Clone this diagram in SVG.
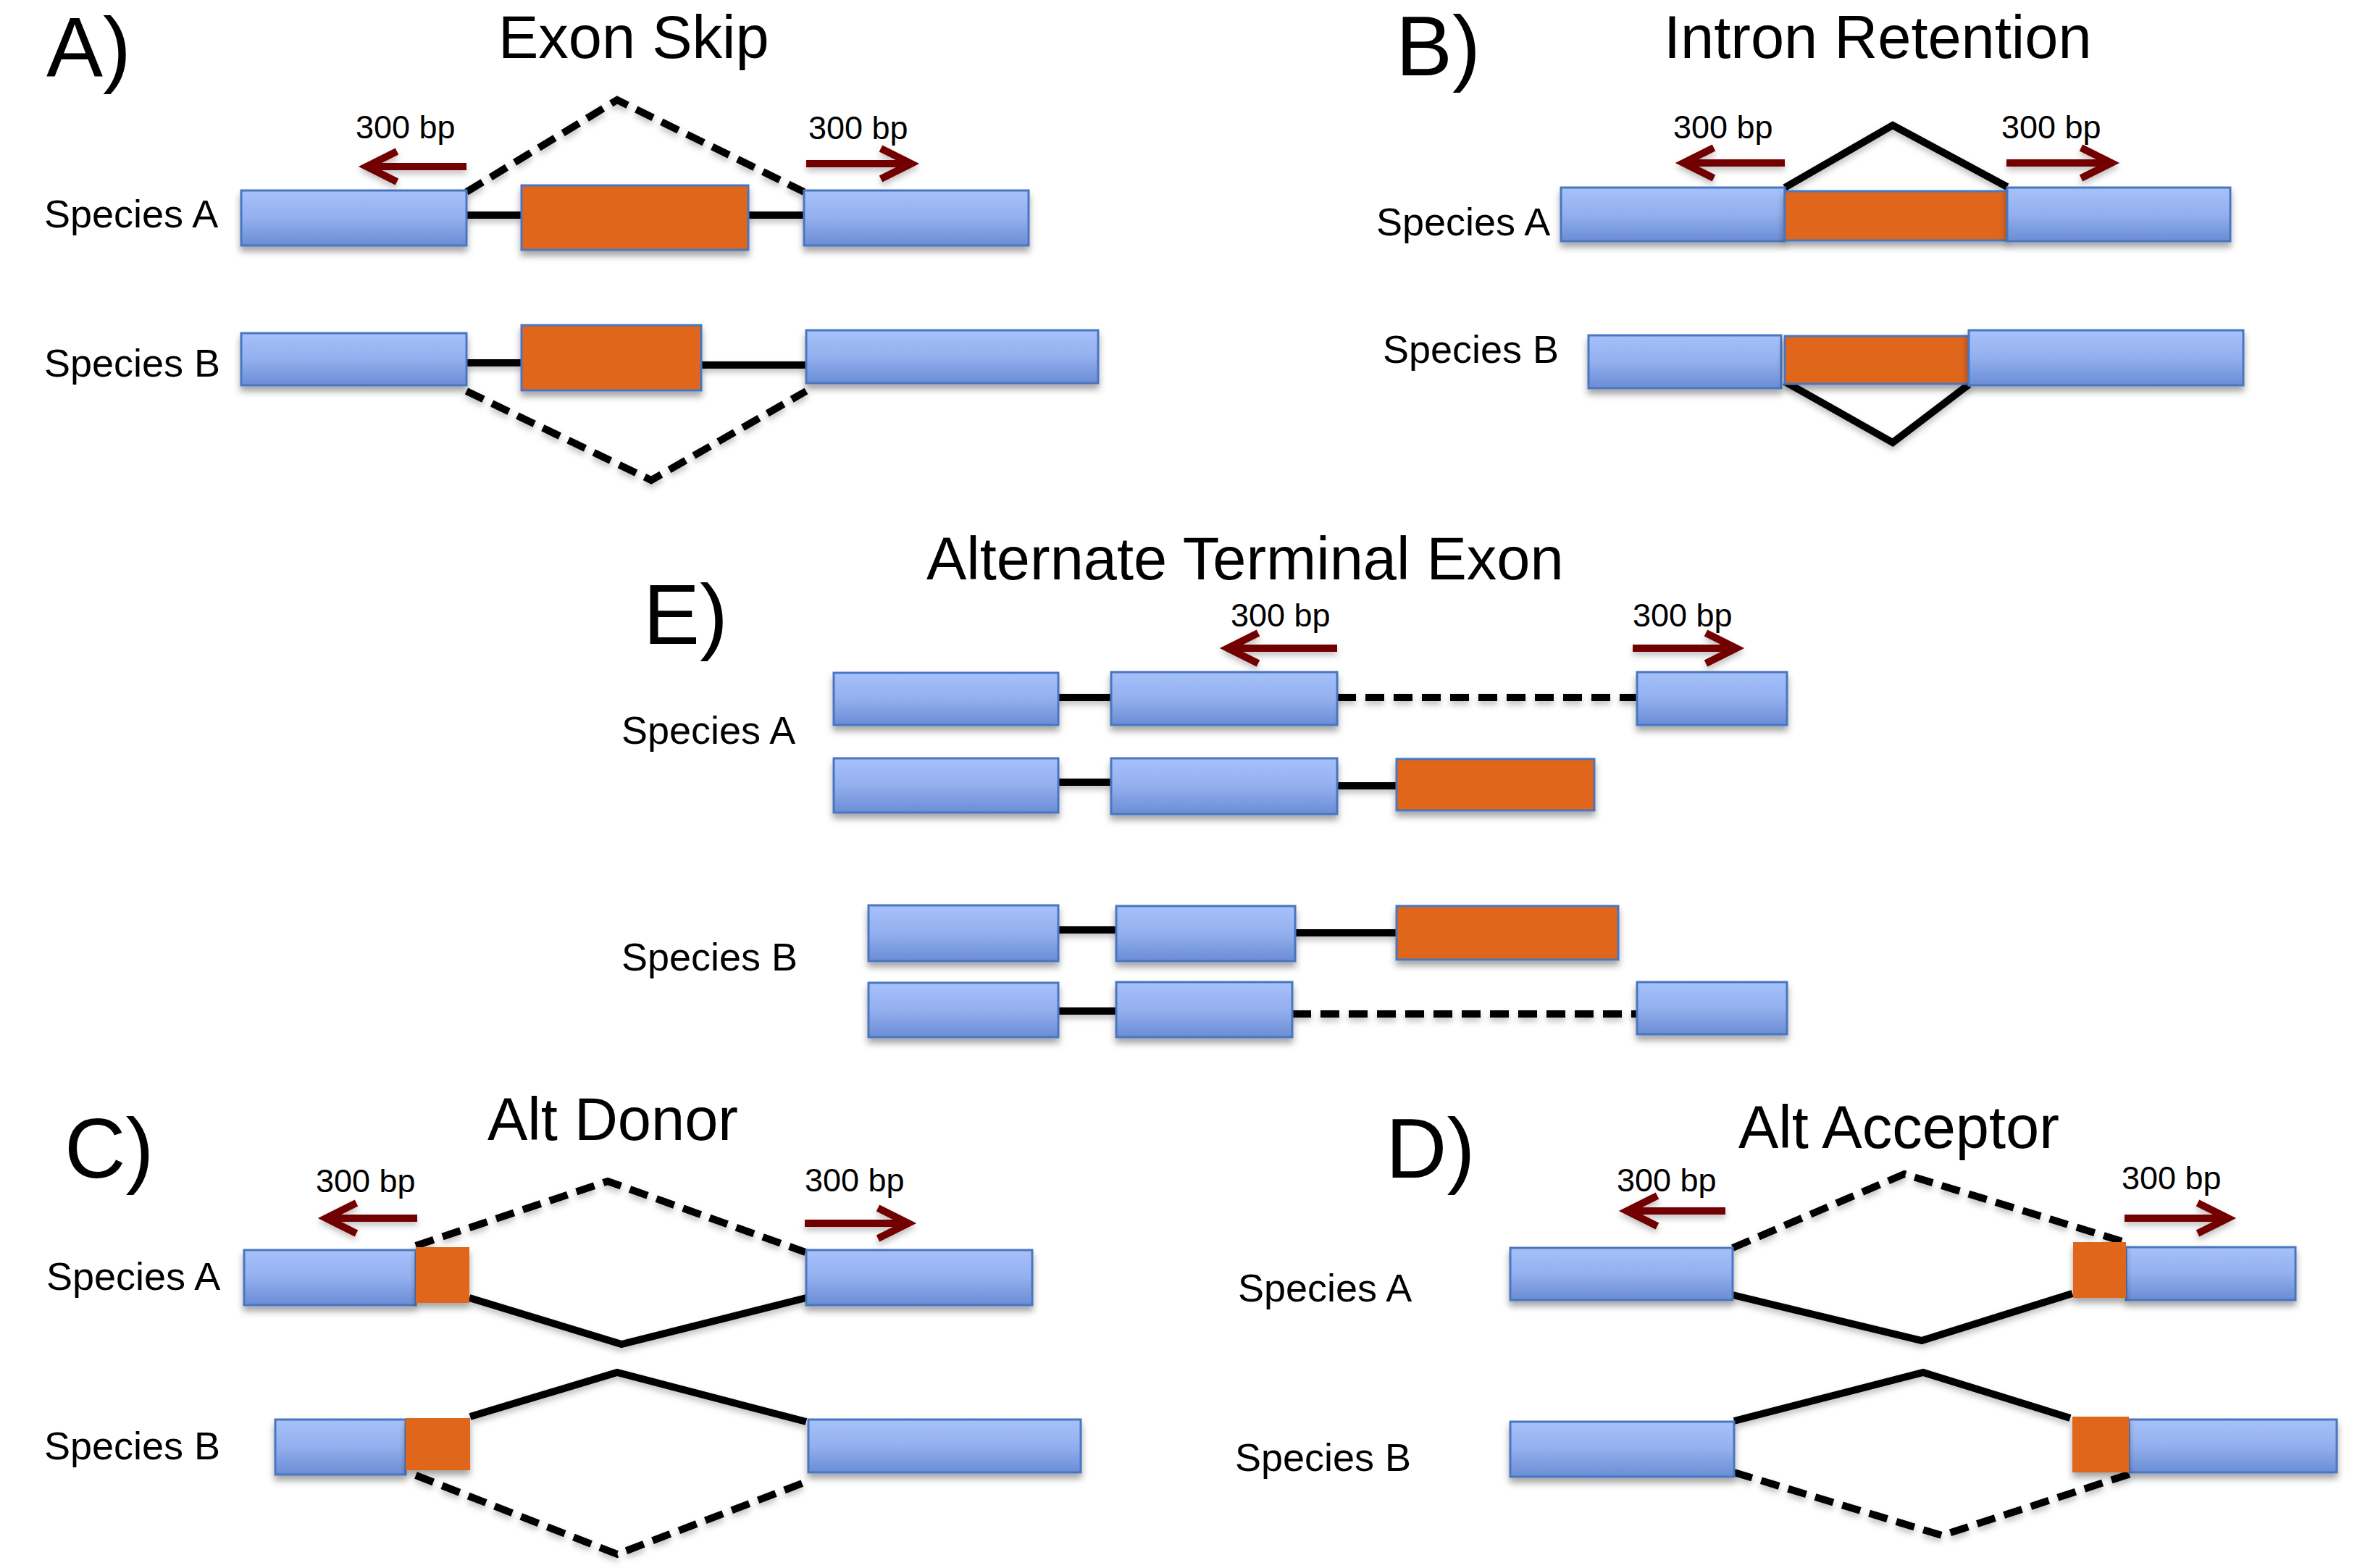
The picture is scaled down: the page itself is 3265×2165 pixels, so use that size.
<svg xmlns="http://www.w3.org/2000/svg" width="3265" height="2165" viewBox="0 0 3265 2165">
<defs>
<linearGradient id="blueGrad" x1="0" y1="0" x2="0" y2="1">
<stop offset="0" stop-color="#a6c1fa"/>
<stop offset="0.5" stop-color="#93afee"/>
<stop offset="1" stop-color="#6a8dd5"/>
</linearGradient>
<filter id="shadow" x="-10%" y="-30%" width="120%" height="180%">
<feDropShadow dx="0" dy="7" stdDeviation="5" flood-color="#000" flood-opacity="0.35"/>
</filter>
<filter id="lshadow" filterUnits="userSpaceOnUse" x="0" y="0" width="3265" height="2165">
<feDropShadow dx="0" dy="5" stdDeviation="4" flood-color="#000" flood-opacity="0.25"/>
</filter>
<marker id="ah" markerUnits="userSpaceOnUse" markerWidth="70" markerHeight="70" refX="50" refY="30" orient="auto" overflow="visible">
<path d="M8,9 L50,30 L8,51" fill="none" stroke="#730000" stroke-width="10"/>
</marker>
</defs>
<style>
.exon{fill:url(#blueGrad);stroke:#4a76c0;stroke-width:3;filter:url(#shadow)}
.alt{fill:#e0661a;stroke:#4a76c0;stroke-width:3;filter:url(#shadow)}
.intron{fill:none;stroke:#000;stroke-width:10}
.dash{stroke-dasharray:26 13}
.arrow{fill:none;stroke:#730000;stroke-width:10;marker-end:url(#ah)}
text{font-family:"Liberation Sans",Arial,Helvetica,sans-serif;fill:#000}
.letter{font-size:117px}
.title{font-size:83px}
.sp{font-size:54px}
.bp{font-size:45px}
</style>
<rect width="3265" height="2165" fill="#fff"/>

<g id="connectors" filter="url(#lshadow)">
<!-- Panel A -->
<line class="intron" x1="644" y1="297" x2="720" y2="297"/>
<line class="intron" x1="1033" y1="297" x2="1110" y2="297"/>
<polyline class="intron dash" points="644,265 852,138 1110,265"/>
<line class="intron" x1="644" y1="501" x2="720" y2="501"/>
<line class="intron" x1="968" y1="504" x2="1113" y2="504"/>
<polyline class="intron dash" points="644,540 899,663 1113,540"/>
<line class="arrow" x1="644" y1="230" x2="506" y2="230"/>
<line class="arrow" x1="1113" y1="226" x2="1258" y2="226"/>
<!-- Panel B -->
<polyline class="intron" points="2464,259 2613,173 2771,258"/>
<polyline class="intron" points="2464,527 2613,611 2718,531"/>
<line class="arrow" x1="2464" y1="225" x2="2324" y2="225"/>
<line class="arrow" x1="2770" y1="225" x2="2915" y2="225"/>
<!-- Panel E -->
<line class="intron" x1="1461" y1="963" x2="1534" y2="963"/>
<line class="intron dash" x1="1846" y1="963" x2="2260" y2="963"/>
<line class="intron" x1="1461" y1="1080" x2="1534" y2="1080"/>
<line class="intron" x1="1846" y1="1085" x2="1928" y2="1085"/>
<line class="intron" x1="1461" y1="1284" x2="1541" y2="1284"/>
<line class="intron" x1="1788" y1="1288" x2="1928" y2="1288"/>
<line class="intron" x1="1461" y1="1396" x2="1541" y2="1396"/>
<line class="intron dash" x1="1784" y1="1400" x2="2260" y2="1400"/>
<line class="arrow" x1="1846" y1="895" x2="1695" y2="895"/>
<line class="arrow" x1="2254" y1="895" x2="2397" y2="895"/>
<!-- Panel C -->
<polyline class="intron dash" points="574,1720 839,1631 1112,1729"/>
<polyline class="intron" points="648,1792 858,1856 1113,1792"/>
<polyline class="intron" points="649,1956 852,1895 1113,1963"/>
<polyline class="intron dash" points="574,2037 852,2146 1113,2046"/>
<line class="arrow" x1="576" y1="1682" x2="450" y2="1682"/>
<line class="arrow" x1="1111" y1="1689" x2="1254" y2="1689"/>
<!-- Panel D -->
<polyline class="intron dash" points="2392,1723 2629,1621 2930,1714"/>
<polyline class="intron" points="2392,1788 2653,1851 2861,1786"/>
<polyline class="intron" points="2394,1962 2655,1895 2858,1958"/>
<polyline class="intron dash" points="2394,2033 2681,2120 2941,2035"/>
<line class="arrow" x1="2382" y1="1672" x2="2246" y2="1672"/>
<line class="arrow" x1="2933" y1="1682" x2="3076" y2="1682"/>
</g>

<g id="panelA">
<text class="letter" x="64" y="106">A)</text>
<text class="title" x="688" y="80">Exon Skip</text>
<text class="sp" x="61" y="314">Species A</text>
<text class="sp" x="61" y="520">Species B</text>
<text class="bp" x="491" y="191">300 bp</text>
<text class="bp" x="1116" y="192">300 bp</text>
<g id="A-A-e1"><rect class="exon" x="333" y="263" width="311" height="76"/></g>
<g id="A-A-alt"><rect class="alt" x="720" y="256" width="313" height="89"/></g>
<g id="A-A-e2"><rect class="exon" x="1110" y="263" width="310" height="76"/></g>
<g id="A-B-e1"><rect class="exon" x="333" y="460" width="311" height="72"/></g>
<g id="A-B-alt"><rect class="alt" x="720" y="449" width="248" height="90"/></g>
<g id="A-B-e2"><rect class="exon" x="1113" y="456" width="403" height="73"/></g>
</g>

<g id="panelB">
<text class="letter" x="1927" y="104">B)</text>
<text class="title" x="2297" y="80">Intron Retention</text>
<text class="sp" x="1900" y="325">Species A</text>
<text class="sp" x="1909" y="501">Species B</text>
<text class="bp" x="2310" y="191">300 bp</text>
<text class="bp" x="2763" y="191">300 bp</text>
<g id="B-A-e1"><rect class="exon" x="2155" y="259" width="309" height="74"/></g>
<g id="B-A-alt"><rect class="alt" x="2464" y="264" width="307" height="68"/></g>
<g id="B-A-e2"><rect class="exon" x="2771" y="259" width="308" height="74"/></g>
<g id="B-B-e1"><rect class="exon" x="2193" y="463" width="266" height="73"/></g>
<g id="B-B-alt"><rect class="alt" x="2464" y="464" width="254" height="66"/></g>
<g id="B-B-e2"><rect class="exon" x="2718" y="456" width="379" height="76"/></g>
</g>

<g id="panelE">
<text class="letter" x="888" y="889">E)</text>
<text class="title" x="1279" y="800">Alternate Terminal Exon</text>
<text class="sp" x="858" y="1027">Species A</text>
<text class="sp" x="858" y="1340">Species B</text>
<text class="bp" x="1699" y="865">300 bp</text>
<text class="bp" x="2254" y="865">300 bp</text>
<g id="E-A1-e1"><rect class="exon" x="1151" y="929" width="310" height="72"/></g>
<g id="E-A1-e2"><rect class="exon" x="1534" y="928" width="312" height="73"/></g>
<g id="E-A1-e3"><rect class="exon" x="2260" y="928" width="207" height="73"/></g>
<g id="E-A2-e1"><rect class="exon" x="1151" y="1047" width="310" height="75"/></g>
<g id="E-A2-e2"><rect class="exon" x="1534" y="1047" width="312" height="77"/></g>
<g id="E-A2-alt"><rect class="alt" x="1928" y="1048" width="273" height="71"/></g>
<g id="E-B1-e1"><rect class="exon" x="1199" y="1250" width="262" height="77"/></g>
<g id="E-B1-e2"><rect class="exon" x="1541" y="1251" width="247" height="76"/></g>
<g id="E-B1-alt"><rect class="alt" x="1928" y="1251" width="306" height="74"/></g>
<g id="E-B2-e1"><rect class="exon" x="1199" y="1357" width="262" height="75"/></g>
<g id="E-B2-e2"><rect class="exon" x="1541" y="1356" width="243" height="76"/></g>
<g id="E-B2-e3"><rect class="exon" x="2260" y="1356" width="207" height="72"/></g>
</g>

<g id="panelC">
<text class="letter" x="89" y="1626">C)</text>
<text class="title" x="673" y="1574">Alt Donor</text>
<text class="sp" x="64" y="1781">Species A</text>
<text class="sp" x="61" y="2015">Species B</text>
<text class="bp" x="436" y="1646">300 bp</text>
<text class="bp" x="1111" y="1645">300 bp</text>
<g id="C-A-e1"><rect class="exon" x="337" y="1726" width="237" height="76"/></g>
<g id="C-A-alt"><rect class="alt" x="574" y="1722" width="74" height="77" style="stroke:none"/></g>
<g id="C-A-e2"><rect class="exon" x="1113" y="1726" width="312" height="76"/></g>
<g id="C-B-e1"><rect class="exon" x="380" y="1960" width="180" height="76"/></g>
<g id="C-B-alt"><rect class="alt" x="560" y="1958" width="89" height="72" style="stroke:none"/></g>
<g id="C-B-e2"><rect class="exon" x="1116" y="1960" width="376" height="73"/></g>
</g>

<g id="panelD">
<text class="letter" x="1913" y="1626">D)</text>
<text class="title" x="2400" y="1585">Alt Acceptor</text>
<text class="sp" x="1709" y="1797">Species A</text>
<text class="sp" x="1705" y="2031">Species B</text>
<text class="bp" x="2232" y="1645">300 bp</text>
<text class="bp" x="2929" y="1642">300 bp</text>
<g id="D-A-e1"><rect class="exon" x="2085" y="1723" width="307" height="72"/></g>
<g id="D-A-e2"><rect class="exon" x="2935" y="1722" width="234" height="73"/></g>
<g id="D-A-alt"><rect class="alt" x="2862" y="1715" width="73" height="77" style="stroke:none"/></g>
<g id="D-B-e1"><rect class="exon" x="2085" y="1963" width="309" height="76"/></g>
<g id="D-B-e2"><rect class="exon" x="2939" y="1960" width="287" height="73"/></g>
<g id="D-B-alt"><rect class="alt" x="2861" y="1956" width="78" height="77" style="stroke:none"/></g>
</g>
</svg>
